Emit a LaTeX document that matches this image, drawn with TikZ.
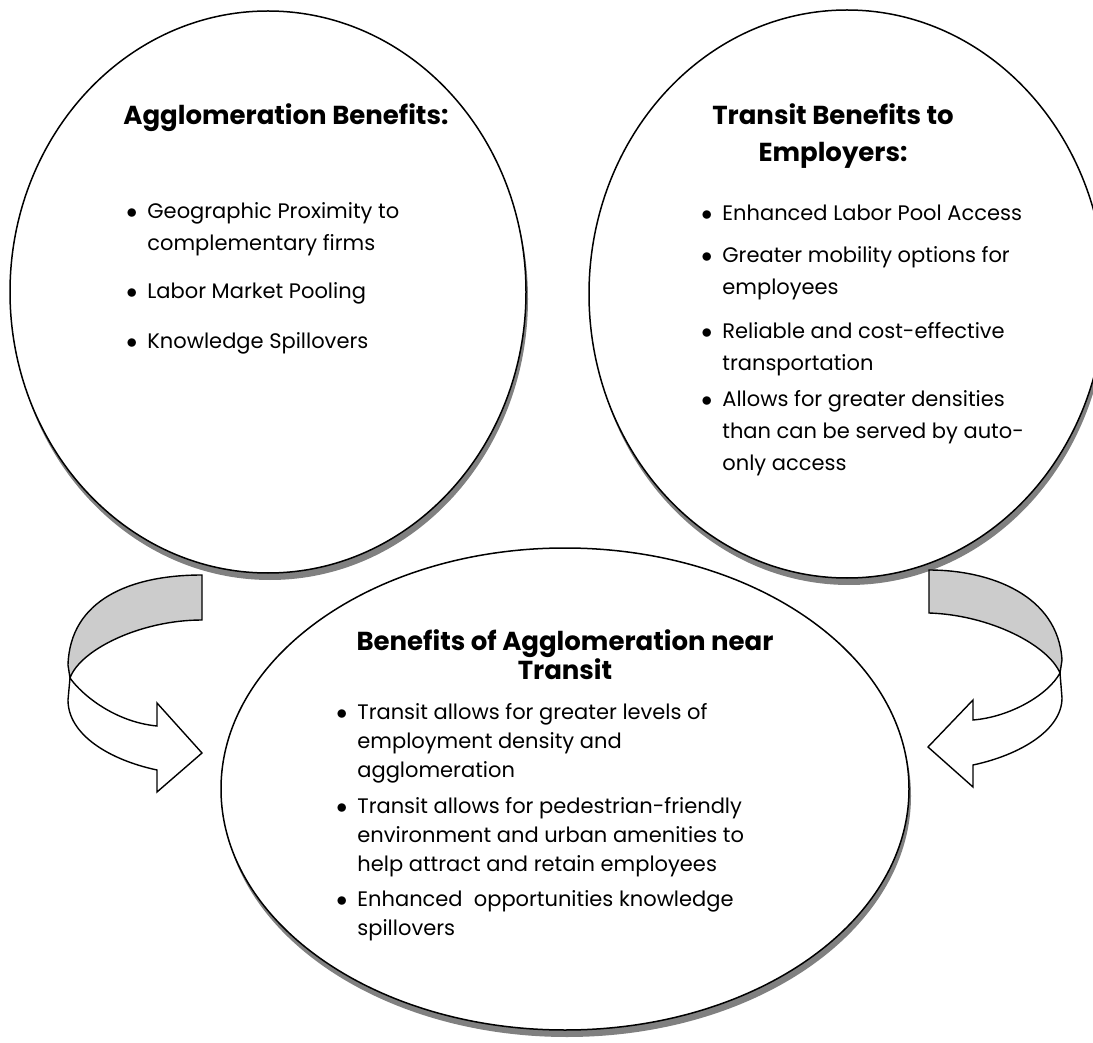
\documentclass[tikz,border=0pt]{standalone}
\usepackage{fontspec}
\setmainfont{Poppins}
\usetikzlibrary{positioning}

\newcommand{\blt}{\llap{$\bullet$\hspace{5pt}}}

\begin{document}
\begin{tikzpicture}[x=0.5pt, y=-0.5pt,
  bubble/.style={draw=black, line width=0.75pt, fill=white},
  drop/.style={fill=black!50},
  ribbon/.style={draw=black, line width=0.7pt, line join=miter},
  headline/.style={font=\fontsize{13}{18.5}\selectfont\bfseries, align=center, anchor=base, inner sep=0pt},
  entry/.style={font=\fontsize{10.5}{16}\selectfont, align=left, anchor=base west, inner sep=0pt},
  entrylow/.style={entry, font=\fontsize{10.5}{14.5}\selectfont}]
\clip (0,0) rectangle (1093,1043);

% the three bubbles, shadow first
\fill[drop] (270,299) ellipse (258 and 281);
\draw[bubble] (268,292) ellipse (258 and 281);
\fill[drop] (849,301) ellipse (258 and 284);
\draw[bubble] (847,294) ellipse (258 and 284);
\fill[drop] (567,796) ellipse (344 and 241);
\draw[bubble] (565,789) ellipse (344 and 241);

% left ribbon arrow
\draw[ribbon, fill=white] (70,678) .. controls (82,695) and (115,722) .. (157,726) -- (157,703) -- (202,753) -- (157,792) -- (157,770) .. controls (110,760) and (68,735) .. (68,700) -- cycle;
\draw[ribbon, fill=black!20] (202,575) .. controls (130,575) and (70,600) .. (68,665) -- (70,678) .. controls (80,650) and (140,620) .. (202,620) -- cycle;

% right ribbon arrow
\draw[ribbon, fill=white] (1060,673) .. controls (1048,695) and (1010,717) .. (973,720) -- (973,700) -- (928,747) -- (973,787) -- (973,765) .. controls (1020,755) and (1062,730) .. (1062,698) -- cycle;
\draw[ribbon, fill=black!20] (929,570) .. controls (990,570) and (1058,595) .. (1062,660) -- (1060,673) .. controls (1048,645) and (990,615) .. (929,613) -- cycle;

% left bubble (base = last line)
\node[headline, anchor=base west] (hdA) at (123,125) {Agglomeration Benefits:};
\node[entry] (a1) at (147,251) {\blt Geographic Proximity to\\complementary firms};
\node[entry] (a2) at (147,299) {\blt Labor Market Pooling};
\node[entry] (a3) at (147,349) {\blt Knowledge Spillovers};

% right bubble
\node[headline] (hdB) at (833,162) {Transit Benefits to\\Employers:};
\node[entry] (b1) at (722,221) {\blt Enhanced Labor Pool Access};
\node[entry] (b2) at (722,295) {\blt Greater mobility options for\\employees};
\node[entry] (b3) at (722,371) {\blt Reliable and cost-effective\\transportation};
\node[entry] (b4) at (722,470) {\blt Allows for greater densities\\than can be served by auto-\\only access};

% bottom bubble
\node[headline, font=\fontsize{13}{14.5}\selectfont\bfseries] (hdC) at (565,679) {Benefits of Agglomeration near\\Transit};
\node[entrylow] (c1) at (357,777) {\blt Transit allows for greater levels of\\employment density and\\agglomeration};
\node[entrylow] (c2) at (357,871) {\blt Transit allows for pedestrian-friendly\\environment and urban amenities to\\help attract and retain employees};
\node[entrylow] (c3) at (357,935) {\blt Enhanced\ \ opportunities knowledge\\spillovers};
\end{tikzpicture}
\end{document}
